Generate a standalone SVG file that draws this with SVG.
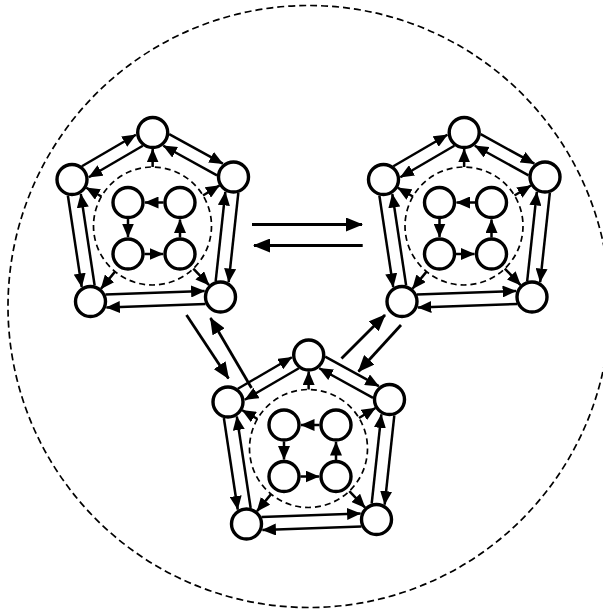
<svg xmlns="http://www.w3.org/2000/svg" xmlns:xlink="http://www.w3.org/1999/xlink" width="603" height="611" viewBox="0 0 603 611">
<style>
.node circle{fill:#fff;stroke:#000;stroke-width:3.4}
.e{stroke:#000;stroke-width:2.5;fill:none;marker-end:url(#ah)}
.x{stroke:#000;stroke-width:2.8;fill:none;marker-end:url(#ahL)}
.dash{fill:none;stroke:#000;stroke-width:1.7;stroke-dasharray:6 4}
.big{fill:none;stroke:#000;stroke-width:1.7;stroke-dasharray:7 4}
</style>
<defs>
<marker id="ah" markerUnits="userSpaceOnUse" viewBox="0 0 14 12" markerWidth="14" markerHeight="12" refX="13.5" refY="6" orient="auto"><path d="M0,0 L14,6 L0,12 z" fill="#000"/></marker>
<marker id="ahL" markerUnits="userSpaceOnUse" viewBox="0 0 17 14" markerWidth="17" markerHeight="14" refX="16" refY="7" orient="auto"><path d="M0,0 L17,7 L0,14 z" fill="#000"/></marker>
<g id="cluster-edges">
<g transform="translate(152.7,132.5) rotate(28.85)"><line class="e" x1="15.2" y1="-6.5" x2="76.5" y2="-6.5"/><line class="e" x1="77" y1="6.5" x2="15.7" y2="6.5"/></g>
<g transform="translate(233.5,177) rotate(96.18)"><line class="e" x1="15.2" y1="-6.5" x2="105" y2="-6.5"/><line class="e" x1="105.5" y1="6.5" x2="15.7" y2="6.5"/></g>
<g transform="translate(220.5,297) rotate(178.02)"><line class="e" x1="15.2" y1="-6.5" x2="114.4" y2="-6.5"/><line class="e" x1="114.9" y1="6.5" x2="15.7" y2="6.5"/></g>
<g transform="translate(90.5,301.5) rotate(-98.62)"><line class="e" x1="108.2" y1="-6.5" x2="15.7" y2="-6.5"/><line class="e" x1="15.2" y1="6.5" x2="107.7" y2="6.5"/></g>
<g transform="translate(72,179.5) rotate(-30.22)"><line class="e" x1="15.2" y1="-6.5" x2="77.7" y2="-6.5"/><line class="e" x1="78.2" y1="6.5" x2="15.7" y2="6.5"/></g>
<g transform="translate(152.5,226)">
<line class="e" x1="59" y1="0" x2="77" y2="0" transform="rotate(-89.88)"/>
<line class="e" x1="59" y1="0" x2="78.2" y2="0" transform="rotate(-31.17)"/>
<line class="e" x1="59" y1="0" x2="81.8" y2="0" transform="rotate(46.23)"/>
<line class="e" x1="59" y1="0" x2="81.2" y2="0" transform="rotate(129.39)"/>
<line class="e" x1="59" y1="0" x2="76.5" y2="0" transform="rotate(-149.99)"/>
</g>
<line class="e" x1="163.5" y1="202.5" x2="145" y2="202.5"/>
<line class="e" x1="128" y1="219" x2="128" y2="237"/>
<line class="e" x1="144.5" y1="254" x2="163" y2="254"/>
<line class="e" x1="180" y1="237.5" x2="180" y2="219.5"/>
</g>
</defs>

<g id="frames">
<circle class="big" cx="309" cy="306.5" r="301"/>
<circle class="dash" cx="152.5" cy="226" r="59"/>
<circle class="dash" cx="464" cy="226" r="59"/>
<circle class="dash" cx="308.5" cy="448.5" r="59"/>
</g>

<g id="connectors">
<use xlink:href="#cluster-edges"/>
<use xlink:href="#cluster-edges" transform="translate(311.5,0)"/>
<use xlink:href="#cluster-edges" transform="translate(156,222.5)"/>
<line class="x" x1="252" y1="224.5" x2="362" y2="224.5"/>
<line class="x" x1="362.7" y1="245.5" x2="254" y2="245.5"/>
<line class="x" x1="186.5" y1="315" x2="228.5" y2="378.5"/>
<line class="x" x1="251.5" y1="388" x2="210.5" y2="318"/>
<line class="x" x1="341.5" y1="358.5" x2="385" y2="315"/>
<line class="x" x1="401" y1="325" x2="358.5" y2="371.5"/>
</g>

<g id="nodes">
<g id="cluster1">
<g id="c1-top" class="node"><circle cx="152.7" cy="132.5" r="15"/></g>
<g id="c1-right" class="node"><circle cx="233.5" cy="177" r="15"/></g>
<g id="c1-bottom-right" class="node"><circle cx="220.5" cy="297" r="15"/></g>
<g id="c1-bottom-left" class="node"><circle cx="90.5" cy="301.5" r="15"/></g>
<g id="c1-left" class="node"><circle cx="72" cy="179.5" r="15"/></g>
<g id="c1-a" class="node"><circle cx="128" cy="202.5" r="15"/></g>
<g id="c1-b" class="node"><circle cx="180" cy="202.5" r="15"/></g>
<g id="c1-c" class="node"><circle cx="128" cy="254" r="15"/></g>
<g id="c1-d" class="node"><circle cx="180" cy="254" r="15"/></g>
</g>
<g id="cluster2" transform="translate(311.5,0)">
<g id="c2-top" class="node"><circle cx="152.7" cy="132.5" r="15"/></g>
<g id="c2-right" class="node"><circle cx="233.5" cy="177" r="15"/></g>
<g id="c2-bottom-right" class="node"><circle cx="220.5" cy="297" r="15"/></g>
<g id="c2-bottom-left" class="node"><circle cx="90.5" cy="301.5" r="15"/></g>
<g id="c2-left" class="node"><circle cx="72" cy="179.5" r="15"/></g>
<g id="c2-a" class="node"><circle cx="128" cy="202.5" r="15"/></g>
<g id="c2-b" class="node"><circle cx="180" cy="202.5" r="15"/></g>
<g id="c2-c" class="node"><circle cx="128" cy="254" r="15"/></g>
<g id="c2-d" class="node"><circle cx="180" cy="254" r="15"/></g>
</g>
<g id="cluster3" transform="translate(156,222.5)">
<g id="c3-top" class="node"><circle cx="152.7" cy="132.5" r="15"/></g>
<g id="c3-right" class="node"><circle cx="233.5" cy="177" r="15"/></g>
<g id="c3-bottom-right" class="node"><circle cx="220.5" cy="297" r="15"/></g>
<g id="c3-bottom-left" class="node"><circle cx="90.5" cy="301.5" r="15"/></g>
<g id="c3-left" class="node"><circle cx="72" cy="179.5" r="15"/></g>
<g id="c3-a" class="node"><circle cx="128" cy="202.5" r="15"/></g>
<g id="c3-b" class="node"><circle cx="180" cy="202.5" r="15"/></g>
<g id="c3-c" class="node"><circle cx="128" cy="254" r="15"/></g>
<g id="c3-d" class="node"><circle cx="180" cy="254" r="15"/></g>
</g>
</g>
</svg>
